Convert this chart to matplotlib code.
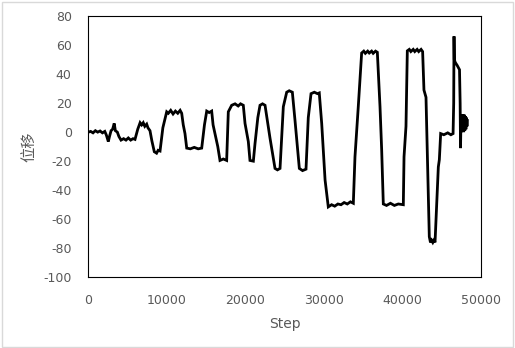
import matplotlib
matplotlib.use("Agg")
import matplotlib.pyplot as plt
from matplotlib.patches import Rectangle

plt.rcParams["axes.unicode_minus"] = False

steps = [0, 300, 600, 900, 1200, 1500, 1800, 2100, 2300, 2550, 2700, 2900, 3100, 3300, 3450, 3700, 3900,
         4170, 4500, 4800, 5100, 5400, 5700, 5950, 6300, 6600, 6800, 7000, 7200, 7440, 7600, 7860, 8100,
         8410, 8700, 8900, 9140, 9500, 9990, 10200, 10500, 10800, 11100, 11400, 11700, 11900, 12100,
         12320, 12540, 13000, 13500, 14000, 14450, 14800, 15090, 15400, 15720, 15900, 16140, 16500,
         16780, 17200, 17630, 17840, 18270, 18700, 19100, 19400, 19750, 19970, 20390, 20600, 21030,
         21240, 21600, 21880, 22200, 22520, 23150, 23790, 24100, 24430, 24850, 25280, 25600, 26000,
         26340, 26890, 27300, 27740, 28030, 28380, 28800, 29200, 29430, 29740, 30170, 30580, 31000,
         31400, 31800, 32200, 32600, 33000, 33400, 33770, 33980, 34400, 34830, 35100, 35300, 35600,
         35800, 36100, 36300, 36600, 36830, 37170, 37380, 37590, 38000, 38500, 39000, 39500, 40140,
         40230, 40480, 40650, 40900, 41100, 41400, 41600, 41900, 42100, 42400, 42600, 42770, 43030,
         43450, 43600, 43750, 43900, 44050, 44180, 44600, 44730, 44900, 45300, 45800, 46200, 46480,
         46560, 46600, 46640, 46760, 47000, 47300, 47380, 47430, 47480, 47550, 47620, 47690, 47760,
         47830, 47900, 47970, 48040, 48110, 48180, 48250, 48300]
displacement = [0, 0.5, -0.5, 1, 0, 0.8, -0.5, 0.5, -2, -6.5, -3, 1, 2, 6, 1, 0, -3,
                -5.5, -4.5, -5.5, -4, -5.5, -4.5, -5, 2, 6.5, 5, 6.5, 4, 5.5, 3, 1, -6,
                -13.5, -14.5, -12.5, -13, 3, 14, 13, 15, 12.5, 14.5, 13, 15, 13, 5,
                -1, -11, -11.5, -10.5, -11.5, -11, 5, 14.5, 13.5, 14.5, 5, -1, -10,
                -19.5, -18.5, -19.5, 14, 18.5, 19.5, 18, 19.5, 18.5, 6, -6.5, -19.5, -20,
                -8, 10, 18.5, 19.5, 18.5, -4, -25, -26, -25, 17.5, 27.5, 28.5, 27.5,
                8, -25, -26.5, -25.5, 10, 26.5, 27.5, 26.5, 27, 6, -33, -51.5, -50,
                -51, -49.5, -50, -48.5, -49.5, -48, -49, -17, 17.5, 54.5, 55.8, 54.3, 55.8,
                54.5, 55.8, 54.3, 55.8, 55, 17.5, -12, -49.5, -50.5, -49, -50.5, -49.5, -50,
                -17, 4, 56, 57, 55.5, 57, 55.5, 57, 55.5, 57, 55.5, 29, 24,
                -72, -76, -74.5, -76, -74.5, -76, -24, -19, -1, -1.8,
                -0.5, -1.8, -1, 20, 66, 50, 48, 46, 43, 20, -11, 6, 0, 12, 1, 12,
                0, 12, 1, 11, 2, 10, 4, 8]

yticks = [-100, -80, -60, -40, -20, 0, 20, 40, 60, 80]
xticks = [0, 10000, 20000, 30000, 40000, 50000]

fig = plt.figure(figsize=(5.15, 3.48), dpi=100)
ax = fig.add_axes([88.3 / 515, 1 - 277.3 / 348, (480.7 - 88.3) / 515, (277.3 - 16) / 348])
ax.plot(steps, displacement, color="black", linewidth=2.0, solid_joinstyle="miter")
ax.set_xlim(0, 50000)
ax.set_ylim(-100, 80)
ax.set_xticks(xticks)
ax.set_yticks(yticks)
ax.tick_params(length=0, labelsize=9, colors="#595959")
ax.tick_params(axis="x", pad=12)
ax.tick_params(axis="y", pad=12)
for s in ax.spines.values():
    s.set_color("black")
    s.set_linewidth(0.8)
ax.set_xlabel("Step", fontsize=10, color="#595959", labelpad=7)
ax.set_ylabel("位移", fontsize=11, color="#595959", family=["Noto Sans CJK SC", "DejaVu Sans"], labelpad=4)

fig.patches.append(Rectangle((1.5 / 515, 1.5 / 348), 511.5 / 515, 344.5 / 348, transform=fig.transFigure,
                             fill=False, edgecolor="#d9d9d9", linewidth=1))
fig.savefig("out.png", dpi=100)
